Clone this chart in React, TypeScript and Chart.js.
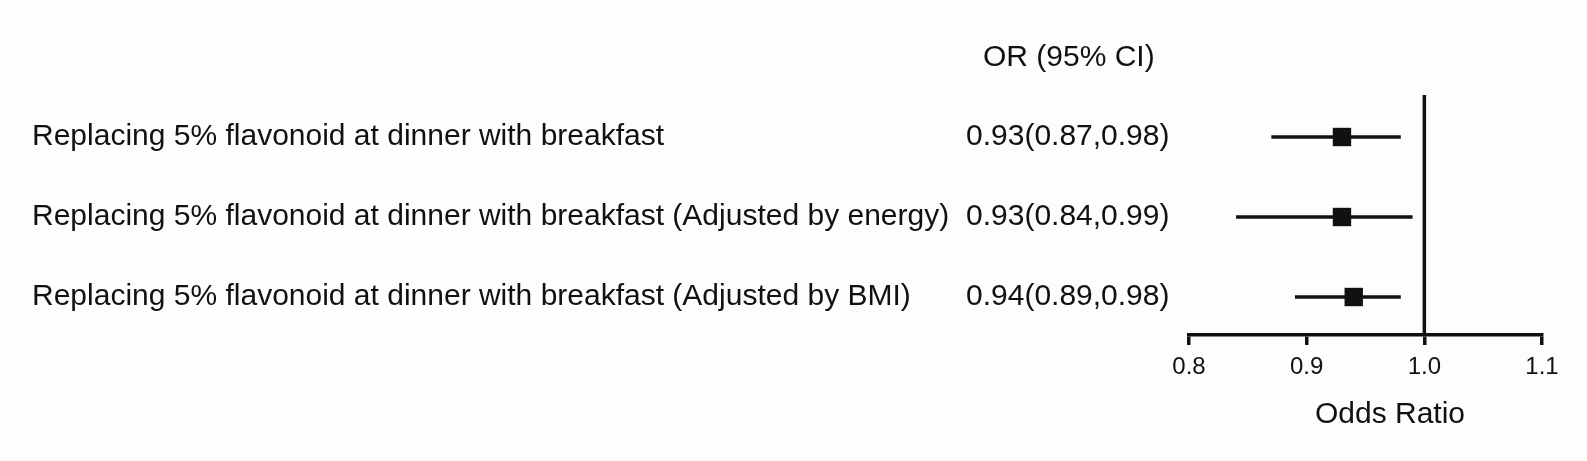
import { useEffect, useRef } from 'react';
import { Chart, registerables } from 'chart.js';

Chart.register(...registerables);

// rows of the forest plot, top to bottom
const rowLabels = [
  'Replacing 5% flavonoid at dinner with breakfast',
  'Replacing 5% flavonoid at dinner with breakfast (Adjusted by energy)',
  'Replacing 5% flavonoid at dinner with breakfast (Adjusted by BMI)',
];
const oddsRatio = [0.93, 0.93, 0.94];
const ciLower = [0.87, 0.84, 0.89];
const ciUpper = [0.98, 0.99, 0.98];
const xTicks = [0.8, 0.9, 1.0, 1.1];
const refValue = 1.0;

const FONT = '"Liberation Sans", Arial, sans-serif';
const INK = '#111111';
const Y_MIN = 0.475;
const Y_MAX = 3.475;

export default function App() {
  const chartRef = useRef<HTMLCanvasElement>(null);
  const chartInstance = useRef<Chart | null>(null);

  useEffect(() => {
    if (!chartRef.current) return;
    if (chartInstance.current) chartInstance.current.destroy();
    const ctx = chartRef.current.getContext('2d');
    if (!ctx) return;

    const rows = rowLabels.map((_, i) => i + 1);

    // whiskers, one line dataset per row
    const whiskers = rows.map((y, i) => ({
      type: 'line' as const,
      data: [
        { x: ciLower[i], y },
        { x: ciUpper[i], y },
      ],
      borderColor: INK,
      borderWidth: 3.5,
      pointRadius: 0,
    }));

    // text columns drawn next to the plot
    const textPlugin = {
      id: 'forestText',
      afterDraw(chart: Chart) {
        const c = chart.ctx;
        const yScale = chart.scales.y;
        c.save();
        c.fillStyle = INK;
        c.font = `30px ${FONT}`;
        c.textBaseline = 'middle';
        c.textAlign = 'left';
        rows.forEach((r, i) => {
          const py = yScale.getPixelForValue(r);
          c.fillText(rowLabels[i], 32, py);
          const txt = `${oddsRatio[i].toFixed(2)}(${ciLower[i].toFixed(2)},${ciUpper[i].toFixed(2)})`;
          c.fillText(txt, 966, py);
        });
        c.fillText('OR (95% CI)', 983, 58);
        c.textAlign = 'center';
        c.fillText('Odds Ratio', 1390, 415);
        c.restore();
      },
    };

    chartInstance.current = new Chart(ctx, {
      type: 'scatter',
      data: {
        datasets: [
          {
            type: 'line',
            data: [
              { x: refValue, y: Y_MIN },
              { x: refValue, y: Y_MAX },
            ],
            borderColor: INK,
            borderWidth: 3.5,
            pointRadius: 0,
          },
          ...whiskers,
          {
            type: 'scatter',
            data: rows.map((y, i) => ({ x: oddsRatio[i], y })),
            pointStyle: 'rect',
            pointRadius: 13,
            backgroundColor: INK,
            borderColor: INK,
            borderWidth: 0,
          },
        ],
      } as any,
      options: {
        responsive: false,
        animation: false,
        events: [],
        layout: { padding: { left: 1189, right: 45, top: 95, bottom: 0 } },
        plugins: {
          legend: { display: false },
          tooltip: { enabled: false },
        },
        scales: {
          x: {
            type: 'linear',
            min: 0.8,
            max: 1.1,
            afterBuildTicks: (scale) => {
              scale.ticks = xTicks.map((v) => ({ value: v }));
            },
            afterFit: (scale) => {
              scale.height = 126;
            },
            grid: {
              drawOnChartArea: false,
              drawTicks: true,
              tickLength: 10,
              lineWidth: 3.5,
              color: INK,
            },
            border: { display: true, width: 3.5, color: INK },
            ticks: {
              padding: 8,
              color: INK,
              font: { family: FONT, size: 24 },
              callback: (v) => Number(v).toFixed(1),
            },
          },
          y: {
            type: 'linear',
            display: false,
            min: Y_MIN,
            max: Y_MAX,
            reverse: true,
          },
        },
      },
      plugins: [textPlugin],
    });

    return () => {
      if (chartInstance.current) {
        chartInstance.current.destroy();
        chartInstance.current = null;
      }
    };
  }, []);

  return (
    <div style={{ position: 'fixed', left: 0, top: 0, width: 1587, height: 461, background: '#fdfdfb' }}>
      <canvas ref={chartRef} width={1587} height={461} style={{ display: 'block' }} />
    </div>
  );
}
